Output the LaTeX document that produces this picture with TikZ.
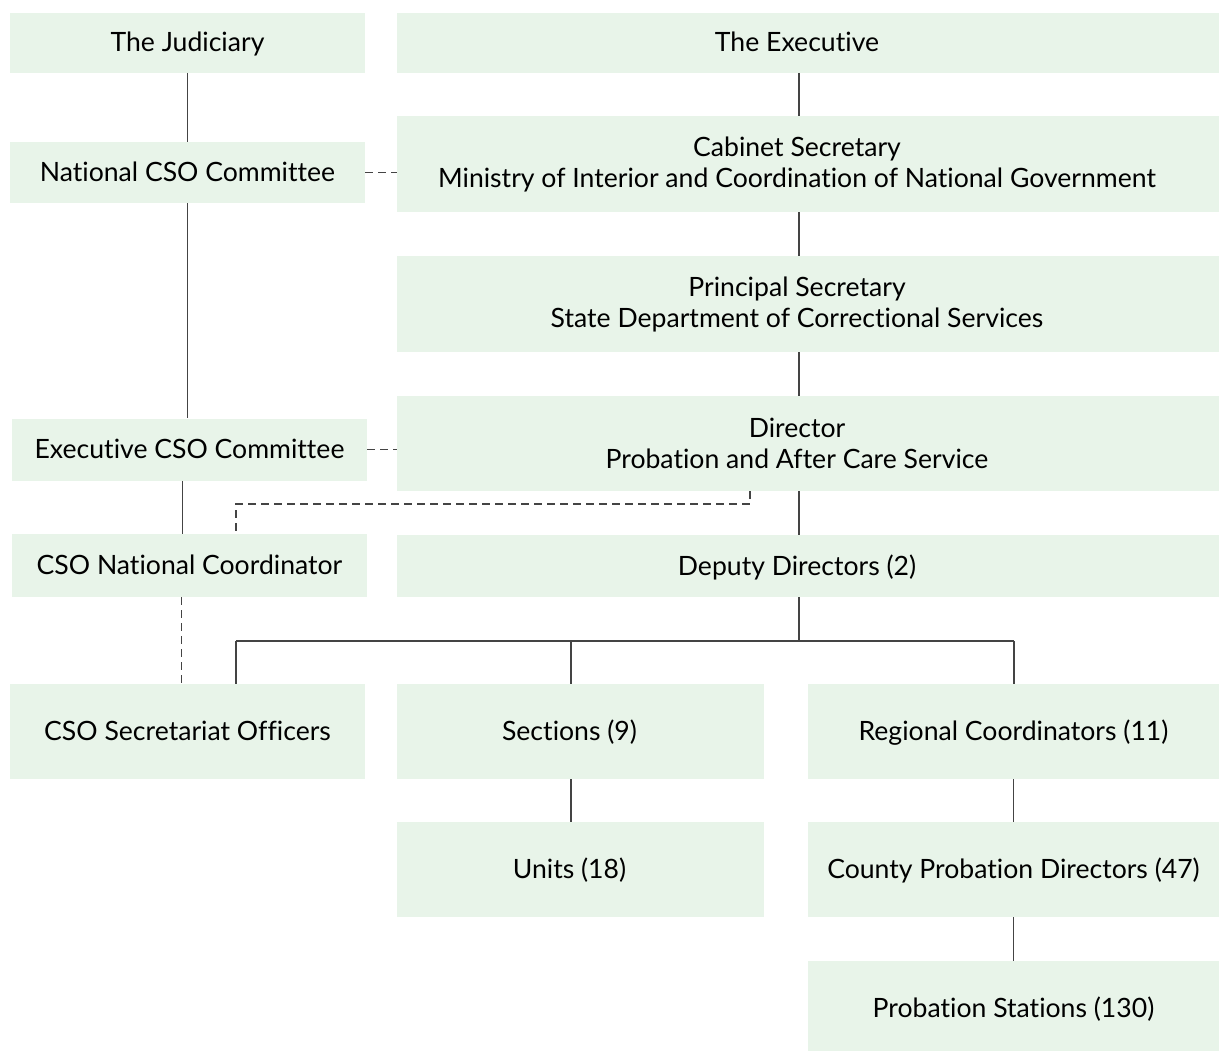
\documentclass[tikz,border=0pt]{standalone}
\usepackage{fontspec}
\setmainfont{Lato}[Ligatures=NoCommon]
\usepackage{tikz}
\usetikzlibrary{positioning, calc}
\definecolor{boxgreen}{HTML}{E8F4E9}
\definecolor{linegray}{HTML}{444444}

\begin{document}
\begin{tikzpicture}[x=0.5pt, y=-0.5pt,
    txt/.style={font=\fontsize{13.3}{15.5}\selectfont, align=center, inner sep=0pt},
    oneline/.style={text height=0.9em, text depth=0pt},
    box/.style={txt, oneline, fill=boxgreen},
    offbox/.style={box, label={[txt, oneline, xshift=-5.5pt]center:#1}},
    twobox/.style={box, label={[txt, xshift=-5.5pt]center:#1}},
    link/.style={draw=linegray, line width=0.9pt},
    dashlink/.style={link, dash pattern=on 4pt off 2.5pt}]
    \clip (0,0) rectangle (1219,1050);

    % left column (committees)
    \node[box, minimum width=177.5pt, minimum height=30pt] (jud) at (187.5,42.5) {The Judiciary};
    \node[box, minimum width=177.5pt, minimum height=30.5pt] (ncom) at (187.5,172.5) {National CSO Committee};
    \node[box, minimum width=177.5pt, minimum height=31pt] (ecom) at (189.5,449.5) {Executive CSO Committee};
    \node[box, minimum width=177.5pt, minimum height=31.5pt] (nco) at (189.5,565.5) {CSO National Coordinator};
    \node[box, minimum width=177.5pt, minimum height=47.5pt] (sec) at (187.5,731.5) {CSO Secretariat Officers};

    % right column (executive line)
    \node[offbox={The Executive}, minimum width=411pt, minimum height=30pt] (exec) at (808,42.5) {};
    \node[twobox={Cabinet Secretary\\Ministry of Interior and Coordination of National Government},
      minimum width=411pt, minimum height=48pt] (cab) at (808,164) {};
    \node[twobox={Principal Secretary\\State Department of Correctional Services},
      minimum width=411pt, minimum height=48pt] (ps) at (808,304) {};
    \node[twobox={Director\\Probation and After Care Service},
      minimum width=411pt, minimum height=47.5pt] (dir) at (808,443.5) {};
    \node[offbox={Deputy Directors (2)}, minimum width=411pt, minimum height=31pt] (dep) at (808,566) {};

    % lower branches
    \node[offbox={Sections (9)}, minimum width=183.5pt, minimum height=47.5pt] (sect) at (580.5,731.5) {};
    \node[offbox={Units (18)}, minimum width=183.5pt, minimum height=47.5pt] (units) at (580.5,869.5) {};
    \node[box, minimum width=205.5pt, minimum height=47.5pt] (reg) at (1013.5,731.5) {Regional Coordinators (11)};
    \node[box, minimum width=205.5pt, minimum height=47.5pt] (cpd) at (1013.5,869.5) {County Probation Directors (47)};
    \node[box, minimum width=205.5pt, minimum height=47.5pt] (pst) at (1013.5,1008.5) {Probation Stations (130)};

    % connector points
    \coordinate (spine) at (799,0);
    \coordinate (busL) at (236,641);
    \coordinate (busM) at (571,641);
    \coordinate (busR) at (1014,641);
    \coordinate (tap) at (750,504);

    % solid links
    \draw[link] (jud) -- (ncom);
    \draw[link] (ncom.south) -- (ncom.south |- ecom.north);
    \draw[link] ($(ecom.south)+(-7,0)$) -- ($(nco.north)+(-7,0)$);
    \draw[link] (exec.south -| spine) -- (cab.north -| spine);
    \draw[link] (cab.south -| spine) -- (ps.north -| spine);
    \draw[link] (ps.south -| spine) -- (dir.north -| spine);
    \draw[link] (dir.south -| spine) -- (dep.north -| spine);
    \draw[link] (dep.south -| spine) -- (spine |- busL);
    \draw[link] (busL) -- (busR);
    \draw[link] (busL) -- (sec.north -| busL);
    \draw[link] (busM) -- (sect.north -| busM);
    \draw[link] (busR) -- (reg.north -| busR);
    \draw[link] (sect.south -| busM) -- (units.north -| busM);
    \draw[link] (reg) -- (cpd);
    \draw[link] (cpd) -- (pst);

    % dashed links
    \draw[dashlink] (ncom.east) -- (ncom.east -| cab.west);
    \draw[dashlink] (ecom.east) -- (ecom.east -| dir.west);
    \draw[dashlink] (dir.south -| tap) -- (tap) -| (nco.north -| busL);
    \draw[dashlink] ($(nco.south)+(-8,0)$) -- ($(sec.north)+(-6,0)$);
  \end{tikzpicture}
\end{document}
